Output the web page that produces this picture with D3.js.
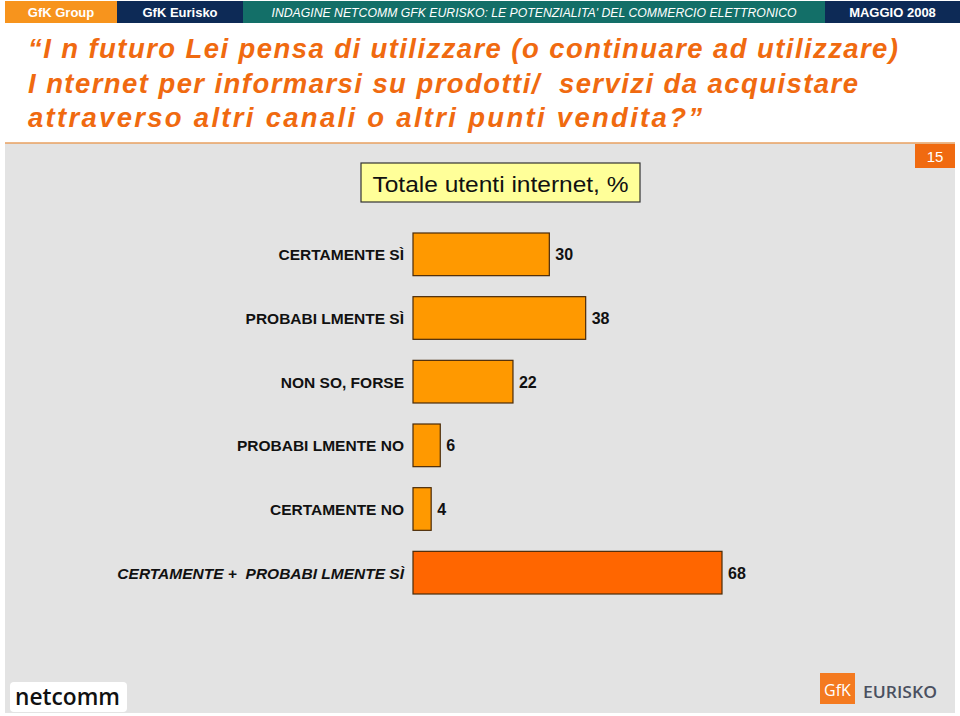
<!DOCTYPE html>
<html>
<head>
<meta charset="utf-8">
<script src="https://cdn.jsdelivr.net/npm/d3@7"></script>
<style>
	body { margin: 0; background: #fff; }
	svg { display: block; font-family: "Liberation Sans", Arial, sans-serif; }
	svg text { white-space: pre; }
</style>
</head>
<body>
<div id="chart"></div>
<script>
// data
const categories = [
	"CERTAMENTE SÌ",
	"PROBABI LMENTE SÌ",
	"NON SO, FORSE",
	"PROBABI LMENTE NO",
	"CERTAMENTE NO",
	"CERTAMENTE +  PROBABI LMENTE SÌ"
];
const values = [30, 38, 22, 6, 4, 68];
const totalFlags = [false, false, false, false, false, true];

const titleLines = [
	"“I n futuro Lei pensa di utilizzare (o continuare ad utilizzare)",
	"I nternet per informarsi su prodotti/  servizi da acquistare",
	"attraverso altri canali o altri punti vendita?”"
];
const headerItems = ["GfK Group", "GfK Eurisko", "INDAGINE NETCOMM GFK EURISKO: LE POTENZIALITA' DEL COMMERCIO ELETTRONICO", "MAGGIO 2008"];
const boxLabel = "Totale utenti internet, %";
const pageNumber = "15";

const W = 960, H = 716;
const svg = d3.select("#chart").append("svg")
	.attr("width", W)
	.attr("height", H);

// header strip
const header = [
	{ x: 5, w: 112, fill: "#f7941d", text: headerItems[0], italic: false, size: 13 },
	{ x: 117, w: 126, fill: "#0d2a56", text: headerItems[1], italic: false, size: 13 },
	{ x: 243, w: 582, fill: "#136f68", text: headerItems[2], italic: true, size: 12 },
	{ x: 825, w: 135, fill: "#0d2a56", text: headerItems[3], italic: false, size: 13 }
];
const hg = svg.append("g");
hg.selectAll("rect")
	.data(header)
	.join("rect")
		.attr("x", d => d.x)
		.attr("y", 1)
		.attr("width", d => d.w)
		.attr("height", 22)
		.attr("fill", d => d.fill);
hg.selectAll("text")
	.data(header)
	.join("text")
		.attr("x", d => d.x + d.w / 2)
		.attr("y", 17)
		.attr("text-anchor", "middle")
		.attr("fill", "#fff")
		.attr("font-size", d => d.size)
		.attr("font-weight", d => d.italic ? "normal" : "bold")
		.attr("font-style", d => d.italic ? "italic" : "normal")
		.attr("textLength", d => d.italic ? 525 : null)
		.attr("lengthAdjust", "spacingAndGlyphs")
		.text(d => d.text);

// title
const titleWidths = [870, 830, 674];
svg.append("g").selectAll("text")
	.data(titleLines)
	.join("text")
		.attr("x", 28)
		.attr("y", (d, i) => 58 + i * 34.5)
		.attr("fill", "#f06a10")
		.attr("font-size", 27.5)
		.attr("font-weight", "bold")
		.attr("font-style", "italic")
		.attr("textLength", (d, i) => titleWidths[i])
		.attr("lengthAdjust", "spacing")
		.text(d => d);

// panel
svg.append("rect")
	.attr("x", 5).attr("y", 143)
	.attr("width", 950).attr("height", 570)
	.attr("fill", "#e3e3e3");
svg.append("line")
	.attr("x1", 5).attr("x2", 955)
	.attr("y1", 143).attr("y2", 143)
	.attr("stroke", "#e8a060")
	.attr("stroke-width", 1.5);

// page number
svg.append("rect")
	.attr("x", 915).attr("y", 144)
	.attr("width", 40).attr("height", 24)
	.attr("fill", "#f06a10");
svg.append("text")
	.attr("x", 935).attr("y", 162)
	.attr("text-anchor", "middle")
	.attr("fill", "#fff")
	.attr("font-size", 15)
	.text(pageNumber);

// subtitle box
svg.append("rect")
	.attr("x", 361).attr("y", 163)
	.attr("width", 279).attr("height", 39)
	.attr("fill", "#ffff99")
	.attr("stroke", "#333")
	.attr("stroke-width", 1.2);
svg.append("text")
	.attr("x", 500.5).attr("y", 192)
	.attr("text-anchor", "middle")
	.attr("fill", "#111")
	.attr("font-size", 22)
	.attr("textLength", 256)
	.attr("lengthAdjust", "spacingAndGlyphs")
	.text(boxLabel);

// bars
const xScale = d3.scaleLinear()
	.domain([0, 68])
	.range([413, 722]);
const yScale = d3.scaleBand()
	.domain(categories)
	.range([233, 594])
	.paddingInner(0.33)
	.paddingOuter(0);

const rows = categories.map((c, i) => ({ cat: c, value: values[i], total: totalFlags[i] }));

const bars = svg.append("g");
bars.selectAll("rect")
	.data(rows)
	.join("rect")
		.attr("x", xScale(0))
		.attr("y", d => yScale(d.cat))
		.attr("width", d => xScale(d.value) - xScale(0))
		.attr("height", yScale.bandwidth())
		.attr("fill", d => d.total ? "#ff6600" : "#ff9900")
		.attr("stroke", "#4a2a08")
		.attr("stroke-width", 1.2);

bars.selectAll(".val")
	.data(rows)
	.join("text")
		.attr("class", "val")
		.attr("x", d => xScale(d.value) + 6)
		.attr("y", d => yScale(d.cat) + yScale.bandwidth() / 2 + 6)
		.attr("font-size", 16)
		.attr("font-weight", "bold")
		.attr("fill", "#111")
		.text(d => d.value);

// category labels
bars.selectAll(".cat")
	.data(rows)
	.join("text")
		.attr("class", "cat")
		.attr("x", 404)
		.attr("y", d => yScale(d.cat) + yScale.bandwidth() / 2 + 6)
		.attr("text-anchor", "end")
		.attr("font-size", 15.5)
		.attr("font-weight", "bold")
		.attr("font-style", d => d.total ? "italic" : "normal")
		.attr("fill", "#111")
		.text(d => d.cat);

// footer logos
svg.append("rect")
	.attr("x", 10).attr("y", 682)
	.attr("width", 117).attr("height", 30)
	.attr("rx", 4)
	.attr("fill", "#fff");
svg.append("text")
	.attr("x", 15).attr("y", 705)
	.attr("font-size", 23)
	.attr("font-weight", 600)
	.attr("font-family", "'Open Sans', sans-serif")
	.attr("fill", "#111")
	.attr("textLength", 105)
	.attr("lengthAdjust", "spacingAndGlyphs")
	.text("netcomm");

svg.append("rect")
	.attr("x", 820).attr("y", 673)
	.attr("width", 35).attr("height", 31)
	.attr("fill", "#f47a20");
svg.append("text")
	.attr("x", 837.5).attr("y", 696)
	.attr("text-anchor", "middle")
	.attr("font-size", 16)
	.attr("font-family", "'Open Sans', sans-serif")
	.attr("fill", "#fff")
	.text("GfK");
svg.append("text")
	.attr("x", 863).attr("y", 698)
	.attr("font-size", 17)
	.attr("font-weight", 600)
	.attr("font-family", "'Open Sans', sans-serif")
	.attr("fill", "#4a5060")
	.attr("textLength", 74)
	.attr("lengthAdjust", "spacingAndGlyphs")
	.text("EURISKO");
</script>
</body>
</html>
